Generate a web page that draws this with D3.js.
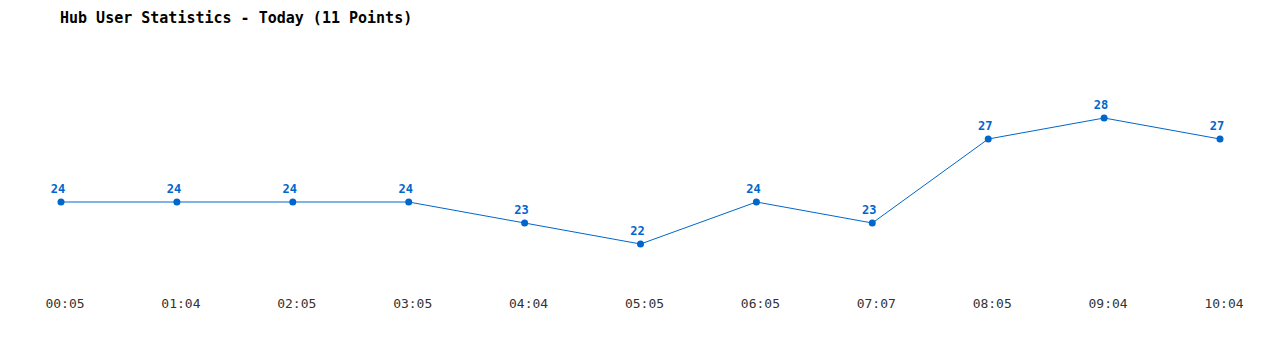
<!DOCTYPE html>
<html>
<head>
<meta charset="utf-8">
<script src="https://cdn.jsdelivr.net/npm/d3@7"></script>
<style>
    body { margin: 0; background: #fff; }
    svg { display: block; }
    .title { font: bold 15px "DejaVu Sans Mono", monospace; fill: #000; }
    .tick { font: 13px "DejaVu Sans Mono", monospace; fill: #333; }
    .val { font: bold 12px "DejaVu Sans Mono", monospace; fill: #0066cc; }
</style>
</head>
<body>
<div id="chart"></div>
<script>
var times = ["00:05", "01:04", "02:05", "03:05", "04:04", "05:05", "06:05", "07:07", "08:05", "09:04", "10:04"];
var users = [24, 24, 24, 24, 23, 22, 24, 23, 27, 28, 27];

var width = 1280, height = 350;
var blue = "#0066cc";

var svg = d3.select("#chart").append("svg")
    .attr("width", width)
    .attr("height", height);

svg.append("text")
    .attr("class", "title")
    .attr("x", 60)
    .attr("y", 23)
    .text("Hub User Statistics - Today (" + users.length + " Points)");

//escalas
var x = d3.scalePoint()
    .domain(times)
    .range([61, 1220]);

var y = d3.scaleLinear()
    .domain([d3.min(users), d3.max(users)])
    .range([244, 118]);

var data = times.map(function (t, i) { return { t: t, v: users[i] }; });

var line = d3.line()
    .x(function (d) { return x(d.t); })
    .y(function (d) { return y(d.v); });

svg.append("path")
    .datum(data)
    .attr("fill", "none")
    .attr("stroke", blue)
    .attr("stroke-width", 1)
    .attr("d", line);

svg.selectAll("circle")
    .data(data)
    .enter().append("circle")
    .attr("cx", function (d) { return x(d.t); })
    .attr("cy", function (d) { return y(d.v); })
    .attr("r", 3.5)
    .attr("fill", blue);

svg.selectAll("text.val")
    .data(data)
    .enter().append("text")
    .attr("class", "val")
    .attr("text-anchor", "middle")
    .attr("x", function (d) { return x(d.t) - 3; })
    .attr("y", function (d) { return y(d.v) - 9; })
    .text(function (d) { return d.v; });

//eje x sin linea
var xAxis = svg.append("g")
    .attr("transform", "translate(4,0)");

xAxis.selectAll("text")
    .data(times)
    .enter().append("text")
    .attr("class", "tick")
    .attr("text-anchor", "middle")
    .attr("x", function (d) { return x(d); })
    .attr("y", 308)
    .text(function (d) { return d; });
</script>
</body>
</html>
